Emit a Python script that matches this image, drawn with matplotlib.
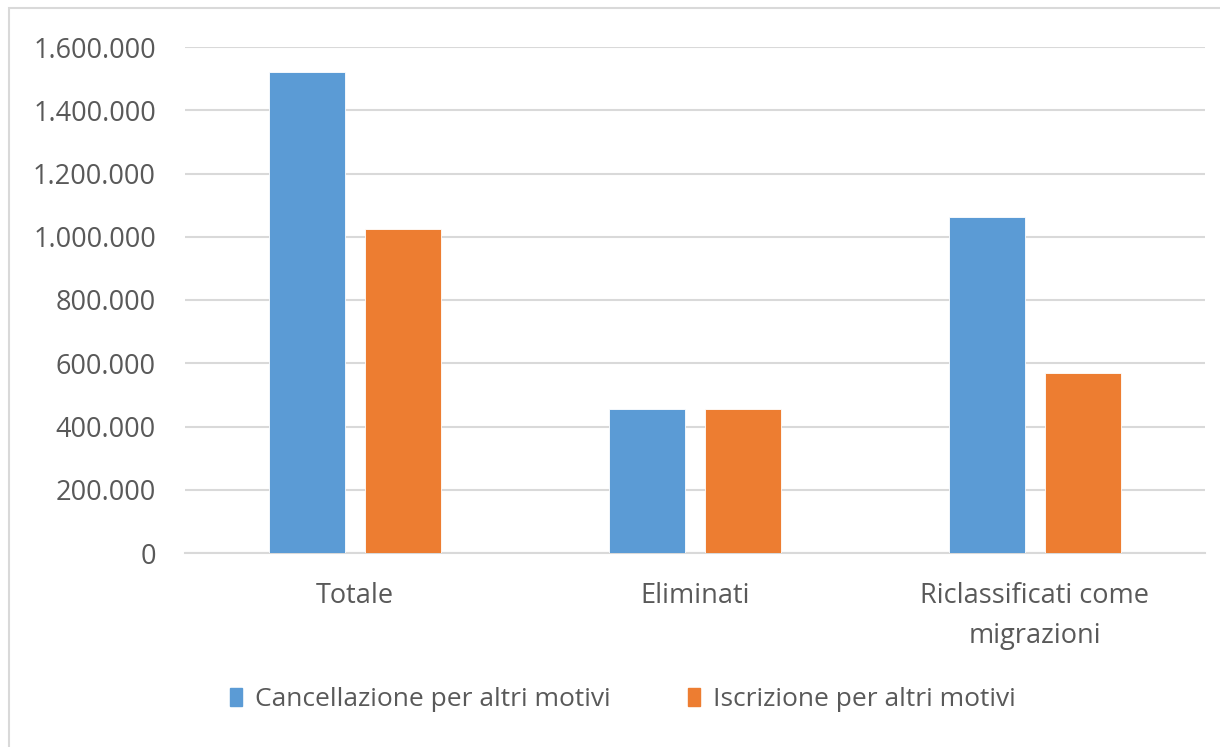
import matplotlib

matplotlib.use("Agg")
import matplotlib.pyplot as plt
from matplotlib.patches import Rectangle, Patch
from matplotlib.ticker import FuncFormatter

categories = ["Totale", "Eliminati", "Riclassificati come\nmigrazioni"]
cancellazione = [1520000, 454000, 1063000]
iscrizione = [1025000, 454000, 568000]
series_names = ["Cancellazione per altri motivi", "Iscrizione per altri motivi"]
yticks = [0, 200000, 400000, 600000, 800000, 1000000, 1200000, 1400000, 1600000]

BLUE = "#5B9BD5"
ORANGE = "#ED7D31"
TEXT = "#595959"
GRID = "#D9D9D9"

plt.rcParams["font.family"] = ["Open Sans", "DejaVu Sans"]

W, H = 1220, 747
fig = plt.figure(figsize=(W / 100, H / 100), dpi=100)
ax = fig.add_axes([185 / W, 1 - 553 / H, 1020 / W, 506 / H])

x = list(range(len(categories)))
bw = 0.224
off = 0.141
ax.bar([i - off for i in x], cancellazione, width=bw, color=BLUE,
       edgecolor="white", linewidth=0.6, zorder=3)
ax.bar([i + off for i in x], iscrizione, width=bw, color=ORANGE,
       edgecolor="white", linewidth=0.6, zorder=3)

ax.set_xlim(-0.5, len(categories) - 0.5)
ax.set_ylim(0, 1600000)
ax.set_yticks(yticks)
ax.yaxis.set_major_formatter(FuncFormatter(lambda v, p: "{:,.0f}".format(v).replace(",", ".")))
ax.set_xticks(x)
ax.set_xticklabels(categories, fontsize=19.5, color=TEXT, linespacing=1.55)
ax.tick_params(axis="y", length=0, pad=21, labelsize=19.5, labelcolor=TEXT)
ax.tick_params(axis="x", length=0, pad=21)
ax.grid(axis="y", color=GRID, linewidth=1.5, zorder=0)
for s in ["top", "right", "left"]:
    ax.spines[s].set_visible(False)
ax.spines["bottom"].set_color(GRID)
ax.spines["bottom"].set_linewidth(1.5)

handles = [Patch(color=BLUE), Patch(color=ORANGE)]
fig.legend(handles, series_names, loc="center", bbox_to_anchor=(623 / W, 1 - 700 / H),
           ncol=2, frameon=False, fontsize=19, labelcolor=TEXT,
           handlelength=0.45, handleheight=0.65, handletextpad=0.5, columnspacing=2.95)

# outer chart border
fig.patches.append(Rectangle((9 / W, -0.1), 1.2, 1 - 8 / H + 0.1, transform=fig.transFigure,
                             fill=False, edgecolor="#D9D9D9", linewidth=1.5))

fig.savefig("out.png", dpi=100)
